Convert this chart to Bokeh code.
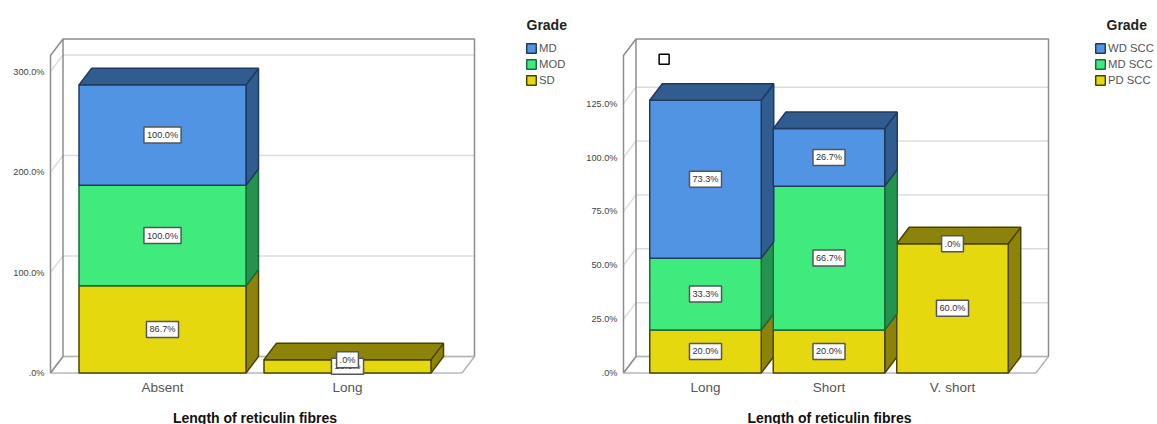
from bokeh.embed import file_html
from bokeh.layouts import row
from bokeh.core.properties import value
from bokeh.models import ColumnDataSource, FixedTicker, Label, Legend, LegendItem, Range1d
from bokeh.plotting import figure
from bokeh.resources import INLINE

# Stacked percentages per category, listed bottom segment first
left_categories = ["Absent", "Long"]
left_grades = ["SD", "MOD", "MD"]
left_sd = [86.7, 13.3]
left_mod = [100.0, 0.0]
left_md = [100.0, 0.0]
left_ticks = [0, 100, 200, 300]

right_categories = ["Long", "Short", "V. short"]
right_grades = ["PD SCC", "MD SCC", "WD SCC"]
right_pd = [20.0, 20.0, 60.0]
right_md = [33.3, 66.7, 0.0]
right_wd = [73.3, 26.7, 0.0]
right_ticks = [0, 25, 50, 75, 100, 125]

# Small open square on the right panel, in category and percent units
square_x = [-0.335]
square_y = [145.6]

X_TITLE = "Length of reticulin fibres"
LEGEND_TITLE = "Grade"
FONT = "Liberation Sans"

# Face, depth and outline colours, bottom segment first
FACE = ["#e5d80e", "#3feb7c", "#5294e4"]
DEPTH = ["#8c840a", "#259350", "#315c90"]
EDGE = ["#4a4400", "#1c6a3a", "#1e3a5e"]

HEIGHT = 424
BASE_PX = 372.5        # baseline row in the window
AXIS_PX = 375          # row the category labels hang from
DEPTH_X_PX = 12.5
DEPTH_Y_PX = 16.5
WALL_TOP_PX = 55


def tick_text(v):
    return ".0%" if v == 0 else f"{v:.1f}%"


def stacked_panel(categories, grades, stacks, ticks, *, offset, width, frame_left,
                  first_center, step, bar_px, per_unit, wall_left, wall_right,
                  legend_x, legend_title_x, x_title_center):
    to_cat = lambda px: (px - first_center) / step
    to_val = lambda px: (BASE_PX - px) / per_unit
    dx, dy = DEPTH_X_PX / step, DEPTH_Y_PX / per_unit
    half = bar_px / step / 2

    # The frame fills the panel's full height, so titles and legend can sit inside it
    p = figure(
        width=width, height=HEIGHT, output_backend="svg", toolbar_location=None,
        x_range=Range1d(to_cat(offset + frame_left), to_cat(offset + width)),
        y_range=Range1d(to_val(HEIGHT), to_val(0)),
        min_border_left=frame_left, min_border_right=0,
        min_border_top=0, min_border_bottom=0,
        outline_line_color=None, background_fill_color="white",
    )
    p.grid.visible = False

    # Box walls: back plane, floor and left side, with gridlines wrapping round
    x0, x1 = to_cat(wall_left), to_cat(wall_right)
    y_top = to_val(WALL_TOP_PX)
    p.segment([x0 + dx] * len(ticks), [t + dy for t in ticks],
              [x1 + dx] * len(ticks), [t + dy for t in ticks],
              line_color="#dcdcdc", line_width=1.5)
    p.segment([x0] * len(ticks), ticks, [x0 + dx] * len(ticks), [t + dy for t in ticks],
              line_color="#dcdcdc", line_width=1.5)
    p.line([x0, x1], [0, 0], line_color="#b4b8c0", line_width=1.5)
    p.line([x1, x1 + dx], [0, dy], line_color="#b4b4b4", line_width=1.5)
    p.line([x0 + dx, x1 + dx], [dy, dy], line_color="#b4b4b4", line_width=1.5)
    p.line([x0 + dx, x0 + dx, x1 + dx, x1 + dx],
           [dy, y_top + dy, y_top + dy, dy], line_color="#8c8c8c", line_width=1.5)
    p.line([x0 + dx, x0, x0, x0 + dx],
           [y_top + dy, y_top, 0, dy], line_color="#8c8c8c", line_width=1.5)

    # Bars: depth faces first, then the front faces on top of them
    centers = list(range(len(categories)))
    bottoms = [0.0] * len(centers)
    labels = {"x": [], "y": [], "text": []}
    fronts = []
    for s, values in enumerate(stacks):
        tops = [b + v for b, v in zip(bottoms, values)]
        side_xs, side_ys, keep = [], [], [i for i, v in enumerate(values) if v > 0]
        for i in keep:
            right = centers[i] + half
            side_xs.append([right, right + dx, right + dx, right])
            side_ys.append([bottoms[i], bottoms[i] + dy, tops[i] + dy, tops[i]])
        p.patches(side_xs, side_ys, fill_color=DEPTH[s], line_color=EDGE[s], line_width=1.5)
        fronts.append(p.quad(
            left=[centers[i] - half for i in keep], right=[centers[i] + half for i in keep],
            bottom=[bottoms[i] for i in keep], top=[tops[i] for i in keep],
            fill_color=FACE[s], line_color=EDGE[s], line_width=1.5))
        for i in keep:
            labels["x"].append(centers[i])
            labels["y"].append(bottoms[i] + values[i] / 2)
            labels["text"].append(f"{values[i]:.1f}%")
        bottoms = tops

    # Lids sit on the highest segment of each bar
    for s in range(len(stacks)):
        lid = [i for i in centers
               if stacks[s][i] > 0 and all(st[i] == 0 for st in stacks[s + 1:])]
        p.patches(
            [[centers[i] - half, centers[i] - half + dx, centers[i] + half + dx, centers[i] + half]
             for i in lid],
            [[bottoms[i], bottoms[i] + dy, bottoms[i] + dy, bottoms[i]] for i in lid],
            fill_color=DEPTH[s], line_color=EDGE[s], line_width=1.5)

    # Empty upper segments share one ".0%" tag at the top of the stack
    for i in centers:
        if any(st[i] == 0 for st in stacks):
            labels["x"].append(i)
            labels["y"].append(bottoms[i])
            labels["text"].append(".0%")

    p.text("x", "y", "text", source=ColumnDataSource(labels),
           text_font=value(FONT), text_font_size="9.2px", text_color="#333333",
           text_align="center", text_baseline="middle", padding=(3, 3),
           background_fill_color="white", border_line_color="#555555", border_line_width=1.5)

    # Axes carry only their labels; the walls are drawn above
    xa, ya = p.xaxis[0], p.yaxis[0]
    xa.fixed_location = to_val(AXIS_PX)
    xa.ticker = FixedTicker(ticks=centers)
    xa.major_label_overrides = dict(zip(centers, categories))
    xa.major_label_text_font = FONT
    xa.major_label_text_font_size = "13.5px"
    xa.major_label_text_color = "#555555"
    xa.major_label_standoff = 4
    ya.ticker = FixedTicker(ticks=ticks)
    ya.major_label_overrides = {t: tick_text(t) for t in ticks}
    ya.major_label_text_font = FONT
    ya.major_label_text_font_size = "9.2px"
    ya.major_label_text_color = "#444444"
    ya.major_label_standoff = 4
    for axis in (xa, ya):
        axis.axis_line_color = None
        axis.major_tick_line_color = None
        axis.minor_tick_line_color = None
        axis.major_tick_out = 0
        axis.major_tick_in = 0

    # Screen heights on these labels count upward from the plot frame's lower edge
    p.add_layout(Label(x=to_cat(x_title_center), y=HEIGHT - 417, y_units="screen",
                       text=X_TITLE, text_align="center", text_baseline="middle",
                       text_font=FONT, text_font_size="14px", text_font_style="bold",
                       text_color="#111111"))
    p.add_layout(Label(x=to_cat(legend_title_x), y=HEIGHT - 24, y_units="screen",
                       text=LEGEND_TITLE, text_align="left", text_baseline="middle",
                       text_font=FONT, text_font_size="14px", text_font_style="bold",
                       text_color="#222222"))

    legend = Legend(
        items=[LegendItem(label=g, renderers=[r]) for g, r in zip(grades[::-1], fronts[::-1])],
        location=(legend_x - offset - frame_left, HEIGHT - 86),
        orientation="vertical", glyph_width=12, glyph_height=12, label_height=12,
        spacing=4, padding=0, margin=0, label_standoff=2,
        border_line_color=None, background_fill_color=None,
        label_text_font=FONT, label_text_font_size="11.3px", label_text_color="#555555",
        label_text_baseline="middle",
    )
    p.add_layout(legend, "center")
    return p


left = stacked_panel(
    left_categories, left_grades, [left_sd, left_mod, left_md], left_ticks,
    offset=0, width=578, frame_left=48, first_center=162, step=185, bar_px=167,
    per_unit=1.005, wall_left=50, wall_right=461.5,
    legend_x=525, legend_title_x=526, x_title_center=254.5,
)

right = stacked_panel(
    right_categories, right_grades, [right_pd, right_md, right_wd], right_ticks,
    offset=578, width=579, frame_left=43, first_center=705, step=123.5, bar_px=111.5,
    per_unit=2.155, wall_left=623, wall_right=1035.5,
    legend_x=1094, legend_title_x=1106, x_title_center=829,
)
right.scatter(square_x, square_y, marker="square", size=10, fill_color="white",
              line_color="black", line_width=1.5)

page = row(left, right, spacing=0)
open("out.html", "w").write(file_html(page, INLINE))
